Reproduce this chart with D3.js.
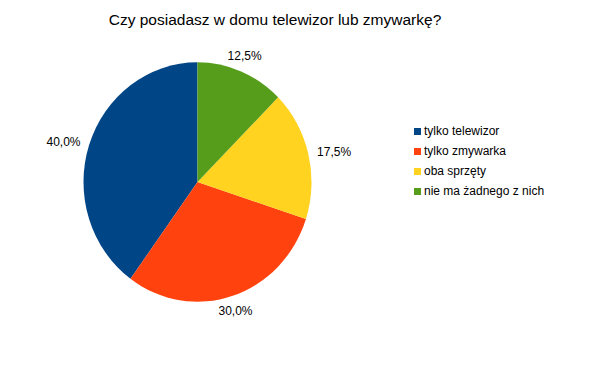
<!DOCTYPE html>
<html>
<head>
<meta charset="utf-8">
<script src="https://cdn.jsdelivr.net/npm/d3@7"></script>
<style>
    body { margin: 0; background: #fff; }
    text { font-family: "Liberation Sans", Arial, sans-serif; fill: #000; }
</style>
</head>
<body>
<div id="wrapper"></div>
<script>
// data
const categories = ["tylko telewizor", "tylko zmywarka", "oba sprzęty", "nie ma żadnego z nich"]
const values = [40.0, 30.0, 17.5, 12.5]
const colors = ["#004586", "#ff420e", "#ffd320", "#579d1c"]
const titleText = "Czy posiadasz w domu telewizor lub zmywarkę?"

const dataset = categories.map((c, i) => ({ name: c, value: values[i], color: colors[i] }))

// dimensions
const dimensions = {
    width: 612,
    height: 372,
    cx: 197.5,
    cy: 182,
    radius: 114,
    yStretch: 1.05,   // the picture is slightly taller than wide
}

const formatPct = v => d3.format(".1f")(v).replace(".", ",") + "%"

const wrapper = d3.select("#wrapper")
    .append("svg")
    .attr("width", dimensions.width)
    .attr("height", dimensions.height)

wrapper.append("text")
    .attr("x", 275)
    .attr("y", 25)
    .attr("text-anchor", "middle")
    .style("font-size", "15.5px")
    .text(titleText)

// pie, counterclockwise from 12 o'clock
const pie = d3.pie()
    .sort(null)
    .value(d => d.value)
    .startAngle(0)
    .endAngle(-2 * Math.PI)

const arc = d3.arc()
    .innerRadius(0)
    .outerRadius(dimensions.radius)

const arcs = pie(dataset)

const bounds = wrapper.append("g")
    .attr("transform", `translate(${dimensions.cx},${dimensions.cy}) scale(1,${dimensions.yStretch})`)

bounds.selectAll("path")
    .data(arcs)
    .enter().append("path")
    .attr("d", arc)
    .attr("fill", d => d.data.color)

// labels outside the slices
const labelR = dimensions.radius + 9
const labels = wrapper.append("g")
    .attr("transform", `translate(${dimensions.cx},${dimensions.cy})`)

labels.selectAll("text")
    .data(arcs)
    .enter().append("text")
    .each(function(d) {
        const a = (d.startAngle + d.endAngle) / 2
        const sx = Math.sin(a)
        const cy = -Math.cos(a)
        const x = sx * labelR
        const y = cy * labelR * dimensions.yStretch
        const anchor = sx > 0.5 ? "start" : sx < -0.5 ? "end" : "middle"
        let dy = "0.35em"
        if (Math.abs(sx) <= 0.5) dy = cy < 0 ? "-0.2em" : "0.85em"
        d3.select(this)
            .attr("x", x)
            .attr("y", y)
            .attr("dy", dy)
            .attr("text-anchor", anchor)
            .style("font-size", "12px")
            .text(formatPct(d.data.value))
    })

// legend
const legend = wrapper.append("g")
    .attr("transform", "translate(414,131)")

const legendItems = legend.selectAll("g")
    .data(dataset)
    .enter().append("g")
    .attr("transform", (d, i) => `translate(0,${i * 20})`)

legendItems.append("rect")
    .attr("x", 0)
    .attr("y", -3)
    .attr("width", 7)
    .attr("height", 7)
    .attr("fill", d => d.color)

legendItems.append("text")
    .attr("x", 10)
    .attr("y", 0)
    .attr("dy", "0.35em")
    .style("font-size", "12px")
    .text(d => d.name)
</script>
</body>
</html>
